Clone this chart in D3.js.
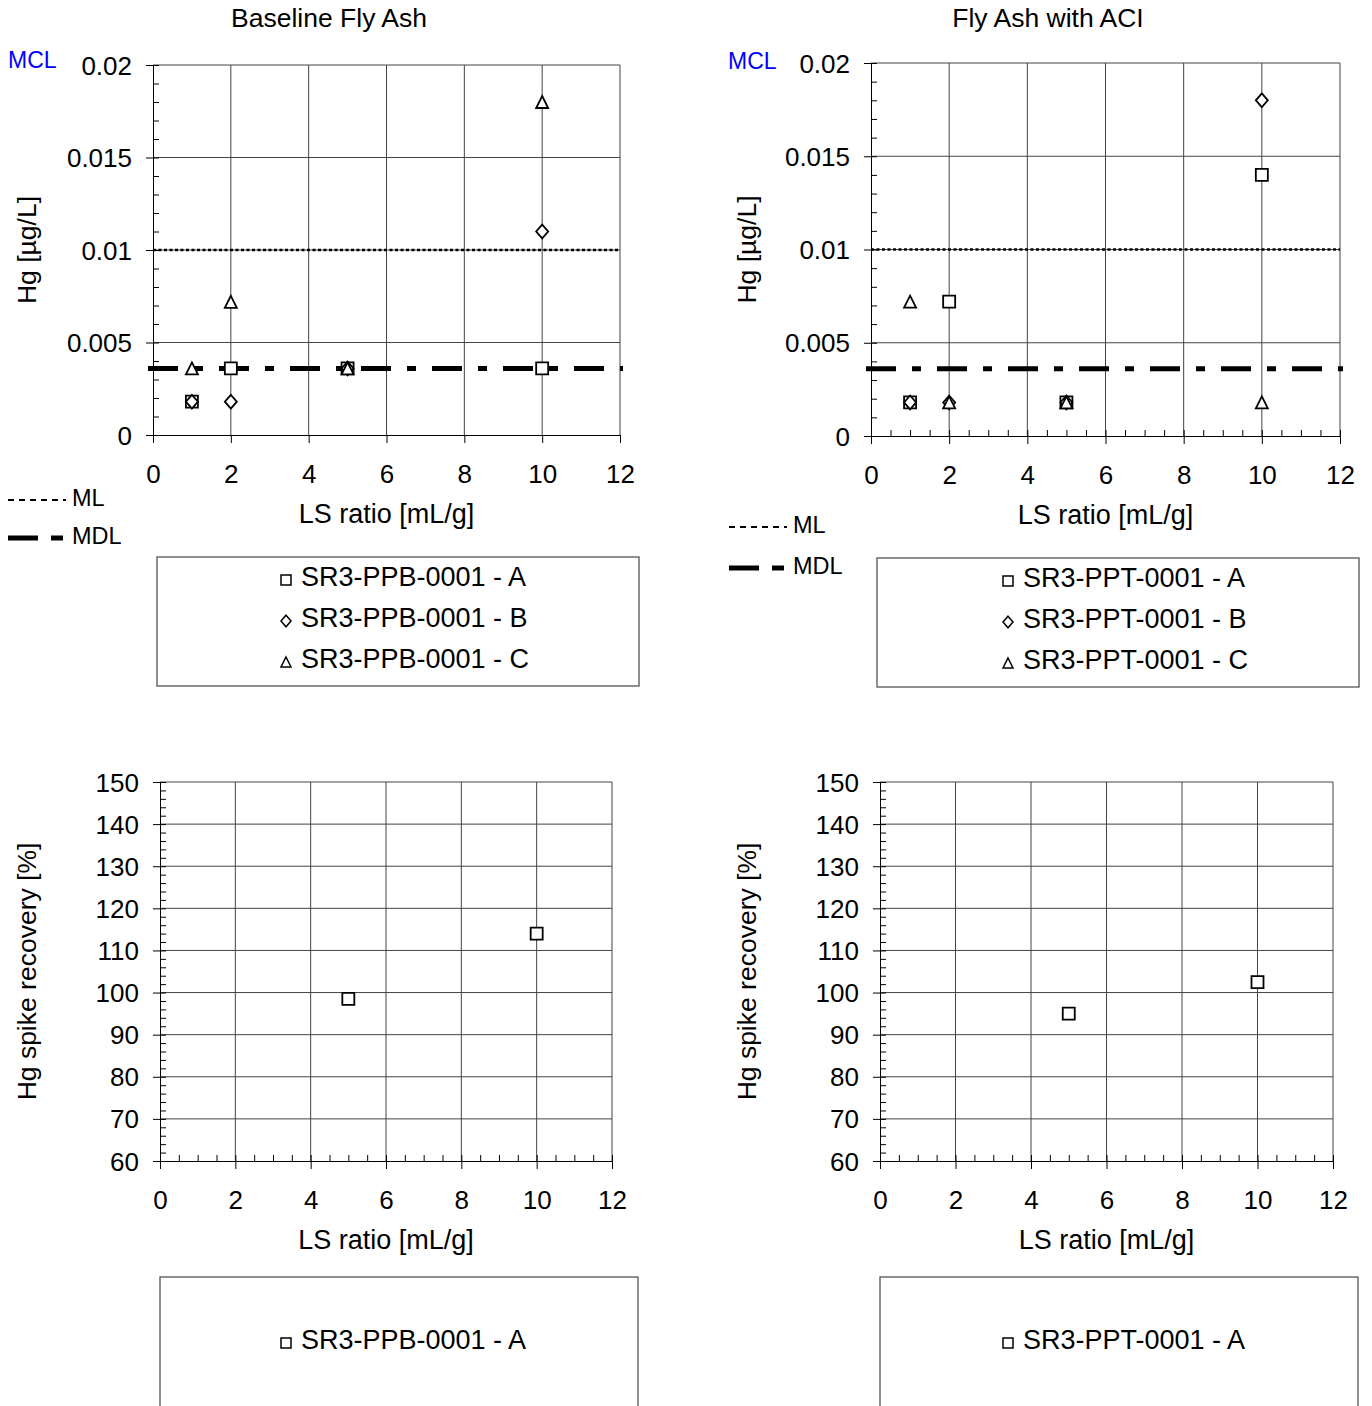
<!DOCTYPE html>
<html>
<head>
<meta charset="utf-8">
<script src="https://d3js.org/d3.v7.min.js"></script>
<style>
  body { margin: 0; background: #fff; }
  svg text { font-family: "Liberation Sans", Arial, sans-serif; fill: #000; }
  .tick text { font-size: 26px; }
  .grid line { stroke: #444; stroke-width: 1; }
</style>
</head>
<body>
<div id="svgContainer"></div>
<script>
// ---- data ----
var lsRatio = [1, 2, 5, 10];
var ppbA = [0.0018, 0.0036, 0.0036, 0.0036];
var ppbB = [0.0018, 0.0018, 0.0036, 0.011];
var ppbC = [0.0036, 0.0072, 0.0036, 0.018];
var pptA = [0.0018, 0.0072, 0.0018, 0.014];
var pptB = [0.0018, 0.0018, 0.0018, 0.018];
var pptC = [0.0072, 0.0018, 0.0018, 0.0018];

var spikeLs = [5, 10];
var ppbSpike = [98.5, 114];
var pptSpike = [95, 102.5];

var mlValue = 0.01;
var mdlValue = 0.0036;

var lsTicks = [0, 2, 4, 6, 8, 10, 12];
var hgTicks = [0, 0.005, 0.01, 0.015, 0.02];
var spikeTicks = [60, 70, 80, 90, 100, 110, 120, 130, 140, 150];

var svg = d3.select("#svgContainer")
    .append("svg")
    .attr("width", 1372)
    .attr("height", 1406);

function markerPath(type, s) {
    var h = s / 2;
    if (type == "square") return "M" + (-h) + "," + (-h) + "H" + h + "V" + h + "H" + (-h) + "Z";
    if (type == "diamond") return "M0," + (-h * 1.15) + "L" + h + ",0L0," + (h * 1.15) + "L" + (-h) + ",0Z";
    return "M0," + (-h) + "L" + h + "," + h + "L" + (-h) + "," + h + "Z";
}

function drawPanel(p) {
    var x = d3.scaleLinear().domain([0, 12]).range([p.left, p.right]);
    var y = d3.scaleLinear().domain(p.yDomain).range([p.bottom, p.top]);
    var g = svg.append("g");

    // grid
    var grid = g.append("g").attr("class", "grid");
    grid.selectAll("line.v").data(lsTicks.filter(d => d > 0)).enter().append("line")
        .attr("x1", d => x(d)).attr("x2", d => x(d))
        .attr("y1", p.top).attr("y2", p.bottom);
    grid.selectAll("line.h").data(p.yTicks.slice(1)).enter().append("line")
        .attr("x1", p.left).attr("x2", p.right)
        .attr("y1", d => y(d)).attr("y2", d => y(d));

    // minor ticks (inside)
    var yMinor = d3.range(p.yDomain[0], p.yDomain[1] + p.yMinorStep / 2, p.yMinorStep);
    g.append("g")
        .attr("transform", "translate(" + p.left + ",0)")
        .call(d3.axisRight(y).tickValues(yMinor).tickSize(6).tickFormat("").tickSizeOuter(0))
        .call(a => a.select(".domain").remove());
    if (p.xMinor) {
        g.append("g")
            .attr("transform", "translate(0," + p.bottom + ")")
            .call(d3.axisTop(x).tickValues(d3.range(0, 12.01, 0.5)).tickSize(6).tickFormat("").tickSizeOuter(0))
            .call(a => a.select(".domain").remove());
    }

    // major axes
    g.append("g")
        .attr("transform", "translate(" + p.left + ",0)")
        .call(d3.axisLeft(y).tickValues(p.yTicks).tickSize(7).tickPadding(14).tickSizeOuter(0).tickFormat(d => String(d)))
        .call(a => a.selectAll(".tick text").attr("dy", "0.35em"));
    g.append("g")
        .attr("transform", "translate(0," + p.bottom + ")")
        .call(d3.axisBottom(x).tickValues(lsTicks).tickSize(8).tickPadding(22).tickSizeOuter(0));

    // reference lines
    if (p.refLines) {
        g.append("line")
            .attr("x1", p.left).attr("x2", p.right)
            .attr("y1", y(mlValue)).attr("y2", y(mlValue))
            .attr("stroke", "#000").attr("stroke-width", 2.6)
            .attr("stroke-dasharray", "3,2.5");
        g.append("line")
            .attr("x1", p.left - 5).attr("x2", p.right + 3)
            .attr("y1", y(mdlValue)).attr("y2", y(mdlValue))
            .attr("stroke", "#000").attr("stroke-width", 5)
            .attr("stroke-dasharray", "30,16,9,16");
    }

    // points
    p.series.forEach(function(s) {
        g.selectAll(null).data(s.values.map((v, i) => [s.xs[i], v])).enter().append("path")
            .attr("d", markerPath(s.type, 12))
            .attr("transform", d => "translate(" + x(d[0]) + "," + y(d[1]) + ")")
            .attr("fill", "#fff").attr("stroke", "#000").attr("stroke-width", 1.8);
    });

    // titles
    g.append("text")
        .attr("x", (p.left + p.right) / 2).attr("y", p.bottom + 88)
        .attr("text-anchor", "middle").attr("font-size", 27)
        .text("LS ratio [mL/g]");
    g.append("text")
        .attr("transform", "translate(" + p.yTitleX + "," + ((p.top + p.bottom) / 2) + ") rotate(-90)")
        .attr("text-anchor", "middle").attr("font-size", 26.5)
        .text(p.yTitle);

    // legend box
    g.append("rect")
        .attr("x", p.legend.x).attr("y", p.legend.y)
        .attr("width", p.legend.w).attr("height", p.legend.h)
        .attr("fill", "none").attr("stroke", "#555").attr("stroke-width", 1.3);
    p.series.forEach(function(s, i) {
        var ly = p.legend.firstY + i * 41;
        g.append("path")
            .attr("d", markerPath(s.type, 10))
            .attr("transform", "translate(" + p.legend.markX + "," + (ly + 3) + ")")
            .attr("fill", "#fff").attr("stroke", "#000").attr("stroke-width", 1.5);
        g.append("text")
            .attr("x", p.legend.markX + 15).attr("y", ly)
            .attr("dy", "0.35em").attr("font-size", 27)
            .text(s.name);
    });

    if (p.refLines) {
        g.append("text").attr("x", p.mclX).attr("y", p.mclY)
            .attr("dy", "0.35em").attr("font-size", 23).style("fill", "#0000ff").text("MCL");
        var lg = p.lineLegend;
        g.append("line").attr("x1", lg.x).attr("x2", lg.x + 58)
            .attr("y1", lg.y1 + 2).attr("y2", lg.y1 + 2)
            .attr("stroke", "#000").attr("stroke-width", 2.2).attr("stroke-dasharray", "6,5");
        g.append("text").attr("x", lg.x + 64).attr("y", lg.y1).attr("dy", "0.35em")
            .attr("font-size", 23.5).text("ML");
        g.append("line").attr("x1", lg.x).attr("x2", lg.x + 56)
            .attr("y1", lg.y2 + 2).attr("y2", lg.y2 + 2)
            .attr("stroke", "#000").attr("stroke-width", 5).attr("stroke-dasharray", "30,13,12,30");
        g.append("text").attr("x", lg.x + 64).attr("y", lg.y2).attr("dy", "0.35em")
            .attr("font-size", 23.5).text("MDL");
    }
    if (p.title) {
        g.append("text").attr("x", p.titleX).attr("y", 18)
            .attr("dy", "0.35em").attr("text-anchor", "middle").attr("font-size", 26.5)
            .text(p.title);
    }
}

drawPanel({
    left: 153, right: 620, top: 65, bottom: 435,
    yDomain: [0, 0.02], yTicks: hgTicks, yMinorStep: 0.001, xMinor: false,
    yTitle: "Hg [\u00b5g/L]", yTitleX: 36, refLines: true, mclX: 8, mclY: 60,
    title: "Baseline Fly Ash", titleX: 329,
    lineLegend: { x: 8, y1: 498, y2: 536 },
    series: [
        { type: "square", xs: lsRatio, values: ppbA, name: "SR3-PPB-0001 - A" },
        { type: "diamond", xs: lsRatio, values: ppbB, name: "SR3-PPB-0001 - B" },
        { type: "triangle", xs: lsRatio, values: ppbC, name: "SR3-PPB-0001 - C" }
    ],
    legend: { x: 157, y: 557, w: 482, h: 129, firstY: 577, markX: 286 }
});

drawPanel({
    left: 871, right: 1340, top: 63, bottom: 436,
    yDomain: [0, 0.02], yTicks: hgTicks, yMinorStep: 0.001, xMinor: true,
    yTitle: "Hg [\u00b5g/L]", yTitleX: 756, refLines: true, mclX: 728, mclY: 61,
    title: "Fly Ash with ACI", titleX: 1048,
    lineLegend: { x: 729, y1: 525, y2: 566 },
    series: [
        { type: "square", xs: lsRatio, values: pptA, name: "SR3-PPT-0001 - A" },
        { type: "diamond", xs: lsRatio, values: pptB, name: "SR3-PPT-0001 - B" },
        { type: "triangle", xs: lsRatio, values: pptC, name: "SR3-PPT-0001 - C" }
    ],
    legend: { x: 877, y: 558, w: 482, h: 129, firstY: 578, markX: 1008 }
});

drawPanel({
    left: 160, right: 612, top: 782, bottom: 1161,
    yDomain: [60, 150], yTicks: spikeTicks, yMinorStep: 2, xMinor: true,
    yTitle: "Hg spike recovery [%]", yTitleX: 36, refLines: false,
    series: [
        { type: "square", xs: spikeLs, values: ppbSpike, name: "SR3-PPB-0001 - A" }
    ],
    legend: { x: 160, y: 1277, w: 478, h: 160, firstY: 1340, markX: 286 }
});

drawPanel({
    left: 880, right: 1333, top: 782, bottom: 1161,
    yDomain: [60, 150], yTicks: spikeTicks, yMinorStep: 2, xMinor: true,
    yTitle: "Hg spike recovery [%]", yTitleX: 756, refLines: false,
    series: [
        { type: "square", xs: spikeLs, values: pptSpike, name: "SR3-PPT-0001 - A" }
    ],
    legend: { x: 880, y: 1277, w: 478, h: 160, firstY: 1340, markX: 1008 }
});
</script>
</body>
</html>
